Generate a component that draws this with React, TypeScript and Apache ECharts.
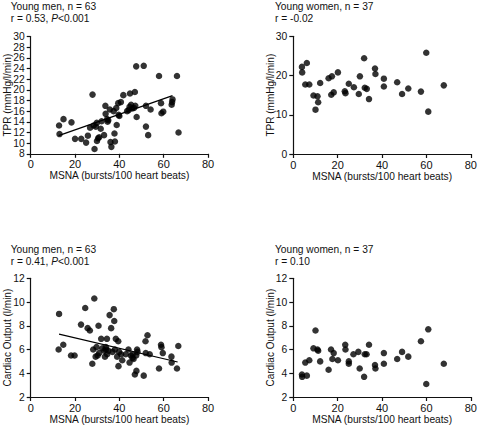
import React, { useEffect, useRef } from "react";
import * as echarts from "echarts";

const FONT = "'Liberation Sans', Arial, Helvetica, sans-serif";
const INK = "#111";

const xName = "MSNA (bursts/100 heart beats)";
const xTicks = { min: 0, max: 80, interval: 20 };

const menTpr: [number, number][] = [
  [12.8, 13.3], [13.0, 11.7], [14.8, 14.5], [18.4, 13.9], [20.0, 10.8], [22.8, 10.8],
  [25.0, 10.1], [25.8, 11.4], [26.8, 12.9], [27.9, 19.1], [28.4, 13.3], [28.8, 8.9],
  [29.4, 13.1], [29.8, 13.8], [29.9, 10.4], [30.4, 10.9], [30.9, 11.1], [31.6, 12.7],
  [32.0, 14.1], [33.1, 11.5], [33.7, 17.0], [33.8, 15.5], [34.5, 14.5], [34.7, 14.0],
  [35.0, 14.3], [35.7, 16.3], [36.0, 10.2], [36.4, 9.3], [37.4, 16.0], [37.8, 11.8],
  [38.0, 10.3], [38.6, 16.6], [38.8, 13.4], [39.5, 17.5], [39.7, 15.3], [40.0, 15.1],
  [40.7, 17.7], [41.8, 19.0], [43.5, 16.0], [44.2, 16.2], [44.6, 16.8], [44.8, 19.3],
  [45.3, 17.2], [45.8, 16.5], [46.6, 16.6], [47.2, 17.0], [47.0, 19.6], [47.6, 24.4],
  [47.8, 14.9], [51.0, 24.5], [52.0, 17.0], [52.0, 13.1], [53.0, 11.5], [54.1, 16.3],
  [57.9, 22.6], [58.8, 17.5], [59.0, 15.6], [59.8, 15.9], [63.6, 17.2], [63.8, 17.7],
  [64.0, 18.2], [66.0, 22.6], [66.7, 12.0],
];
const menTprFit: [number, number][] = [[12.6, 11.4], [64.0, 18.9]];

const womenTpr: [number, number][] = [
  [3.9, 22.2], [4.0, 20.8], [6.1, 23.2], [5.4, 17.7], [7.2, 17.7], [9.1, 14.9],
  [10.0, 11.3], [10.9, 14.7], [11.2, 13.2], [12.1, 18.1], [15.9, 19.3], [17.4, 19.8],
  [17.1, 15.1], [18.2, 15.7], [20.1, 20.8], [23.2, 16.0], [23.5, 15.5], [25.0, 17.9],
  [27.3, 17.0], [29.5, 15.3], [30.0, 19.8], [31.9, 24.4], [32.2, 16.9], [33.1, 16.6],
  [34.1, 14.0], [36.8, 21.8], [37.0, 20.4], [40.8, 19.2], [40.8, 17.2], [46.8, 18.3],
  [49.0, 15.3], [51.8, 16.7], [57.5, 15.9], [59.9, 25.8], [60.8, 10.8], [67.8, 17.5],
];

const menCo: [number, number][] = [
  [12.8, 9.0], [12.6, 6.0], [14.7, 6.4], [18.2, 5.5], [19.8, 5.5], [22.7, 8.1],
  [24.6, 9.5], [25.7, 7.8], [26.7, 7.6], [27.8, 4.8], [28.2, 6.0], [28.7, 10.3],
  [29.3, 5.4], [29.7, 6.2], [30.2, 5.5], [30.6, 8.0], [30.9, 5.7], [31.8, 6.9],
  [32.3, 6.1], [33.2, 5.9], [33.5, 5.4], [33.9, 6.2], [34.0, 6.0], [34.4, 6.9],
  [34.5, 5.6], [35.1, 5.9], [35.6, 8.9], [36.3, 7.8], [36.9, 5.8], [37.5, 9.4],
  [37.7, 8.4], [38.0, 6.0], [38.4, 6.9], [39.0, 5.4], [39.5, 6.7], [39.6, 4.6],
  [39.9, 5.8], [40.8, 5.6], [41.3, 5.1], [42.9, 5.6], [44.1, 6.0], [44.6, 4.9],
  [45.2, 5.5], [45.9, 5.3], [46.0, 5.6], [46.4, 5.2], [47.0, 3.9], [47.6, 5.5],
  [47.7, 4.2], [48.2, 5.8], [48.0, 6.0], [51.0, 3.8], [51.8, 6.7], [52.7, 7.2],
  [51.9, 5.7], [53.7, 5.6], [57.9, 4.4], [58.8, 6.4], [59.0, 6.2], [59.6, 5.7],
  [63.5, 5.4], [63.6, 4.9], [66.0, 4.4], [66.6, 6.3],
];
const menCoFit: [number, number][] = [[12.8, 7.3], [66.3, 4.95]];

const womenCo: [number, number][] = [
  [3.9, 3.9], [4.0, 3.7], [5.4, 4.9], [6.1, 3.8], [7.2, 5.1], [9.1, 6.1],
  [10.0, 7.6], [10.9, 6.0], [11.2, 5.9], [12.1, 5.0], [15.9, 4.3], [17.0, 6.0],
  [17.6, 5.2], [18.2, 5.7], [20.1, 5.1], [23.4, 6.4], [23.5, 6.0], [25.0, 5.0],
  [25.0, 4.8], [27.1, 5.6], [29.3, 5.8], [29.9, 4.4], [31.9, 3.7], [32.2, 5.6],
  [33.0, 5.6], [34.1, 6.4], [36.8, 4.7], [37.0, 4.4], [40.8, 5.7], [40.8, 4.8],
  [46.8, 5.2], [49.0, 5.8], [51.8, 5.4], [57.5, 6.7], [59.9, 3.1], [60.8, 7.7],
  [67.8, 4.8],
];

const panelTitles = [
  ["Young men, n = 63", "r = 0.53, {i|P}<0.001"],
  ["Young women, n = 37", "r = -0.02"],
  ["Young men, n = 63", "r = 0.41, {i|P}<0.001"],
  ["Young women, n = 37", "r = 0.10"],
];
const yNames = ["TPR (mmHg/l/min)", "TPR (mmHg/l/min)", "Cardiac Output (l/min)", "Cardiac Output (l/min)"];
const yRanges = [
  { min: 8, max: 30, interval: 2 },
  { min: 0, max: 30, interval: 10 },
  { min: 2, max: 12, interval: 2 },
  { min: 2, max: 12, interval: 2 },
];

export default function App() {
  const ref = useRef<HTMLDivElement>(null);
  useEffect(() => {
    const chart = echarts.init(ref.current!, null, { renderer: "svg" });
    const grids = [
      { left: 30.7, top: 36.5, width: 177.3, height: 117.3 },
      { left: 293.3, top: 36.3, width: 179, height: 117.7 },
      { left: 30.7, top: 278.3, width: 177.3, height: 118.7 },
      { left: 293.3, top: 278.3, width: 179, height: 118.7 },
    ];
    const titlePos = [
      { x: 10.7, y: 6.5 },
      { x: 275, y: 6.5 },
      { x: 10.7, y: 249.3 },
      { x: 275, y: 249.3 },
    ];
    const line = { show: true, onZero: false, lineStyle: { color: INK, width: 1.2 } };
    const tick = { show: true, length: 4, inside: false, lineStyle: { color: INK, width: 1.2 } };
    const scatterData = [menTpr, womenTpr, menCo, womenCo];
    const series: any[] = scatterData.map((d, i) => ({
      type: "scatter",
      xAxisIndex: i,
      yAxisIndex: i,
      data: d,
      symbol: "circle",
      symbolSize: 6.5,
      itemStyle: { color: "#000" },
      silent: true,
    }));
    [[menTprFit, 0], [menCoFit, 2]].forEach(([d, i]: any) => {
      series.push({
        type: "line",
        xAxisIndex: i,
        yAxisIndex: i,
        data: d,
        symbol: "none",
        lineStyle: { color: "#000", width: 1.2 },
        silent: true,
      });
    });
    const graphic: any[] = [];
    panelTitles.forEach((t, i) => {
      graphic.push({
        type: "text",
        x: titlePos[i].x,
        y: titlePos[i].y,
        style: {
          text: t[0],
          font: `10.2px ${FONT}`,
          fill: INK,
          verticalAlign: "middle",
        },
      });
      graphic.push({
        type: "text",
        x: titlePos[i].x,
        y: titlePos[i].y + 11.8,
        style: {
          text: t[1],
          font: `10.2px ${FONT}`,
          fill: INK,
          verticalAlign: "middle",
          rich: { i: { fontStyle: "italic", fontSize: 10.2, fontFamily: FONT, fill: INK } },
        },
      });
    });
    chart.setOption({
      animation: false,
      backgroundColor: "#fff",
      textStyle: { fontFamily: FONT },
      grid: grids,
      xAxis: grids.map((_, i) => ({
        gridIndex: i,
        type: "value",
        ...xTicks,
        axisLine: line,
        axisTick: tick,
        splitLine: { show: false },
        axisLabel: { margin: 5, fontSize: 11, color: INK, fontFamily: FONT, showMinLabel: true, showMaxLabel: true, hideOverlap: false },
        name: xName,
        nameLocation: "middle",
        nameGap: 17,
        nameTextStyle: { fontSize: 10.2, color: INK, fontFamily: FONT },
      })),
      yAxis: grids.map((_, i) => ({
        gridIndex: i,
        type: "value",
        ...yRanges[i],
        axisLine: line,
        axisTick: tick,
        splitLine: { show: false },
        axisLabel: {
          interval: 0,
          margin: 6,
          fontSize: 10.3,
          lineHeight: 9,
          color: INK,
          fontFamily: FONT,
          showMinLabel: true,
          showMaxLabel: true,
          hideOverlap: false,
        },
        name: yNames[i],
        nameLocation: "middle",
        nameGap: 18,
        nameMoveOverlap: false,
        nameTextStyle: { fontSize: 10, color: INK, fontFamily: FONT },
      })),
      series,
      graphic,
    });
    return () => chart.dispose();
  }, []);
  return (
    <div
      ref={ref}
      style={{ position: "fixed", left: 0, top: 0, width: 480, height: 428, background: "#fff" }}
    />
  );
}
